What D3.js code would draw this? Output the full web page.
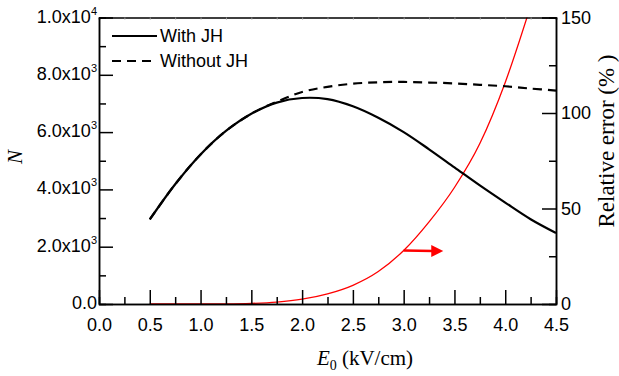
<!DOCTYPE html>
<html>
<head>
<meta charset="utf-8">
<script src="https://cdn.jsdelivr.net/npm/d3@7"></script>
<style>
  body { margin: 0; background: #fff; }
  svg { display: block; }
  .tick text { font-family: "Liberation Sans", Arial, sans-serif; font-size: 18px; fill: #000; }
</style>
</head>
<body>
<svg id="chart" width="619" height="376"></svg>
<script>
// E0 values (kV/cm)
var eField = [0.5, 0.75, 1.0, 1.25, 1.5, 1.75, 2.0, 2.25, 2.5, 2.75, 3.0, 3.25, 3.5, 3.75, 4.0, 4.25, 4.5];
// N with Joule heating
var withJH = [2950, 4180, 5220, 6040, 6640, 7030, 7190, 7150, 6900, 6500, 6000, 5400, 4770, 4140, 3540, 2960, 2480];
// N without Joule heating
var withoutJH = [2950, 4180, 5220, 6040, 6640, 7060, 7400, 7580, 7690, 7740, 7750, 7730, 7700, 7650, 7600, 7520, 7450];
// relative error (%), right axis
var errE = [0.5, 0.75, 1.0, 1.25, 1.5, 1.75, 2.0, 2.25, 2.5, 2.75, 3.0, 3.25, 3.5, 3.75, 4.0, 4.25];
var relErr = [0, 0, 0, 0.05, 0.3, 1, 2.5, 5.3, 9.8, 17, 28, 43, 61, 84, 116, 156];

var xTicks = [0, 0.5, 1.0, 1.5, 2.0, 2.5, 3.0, 3.5, 4.0, 4.5];
var yTicks = [0, 2000, 4000, 6000, 8000, 10000];
var yTickLabels = [["0.0", ""], ["2.0x10", "3"], ["4.0x10", "3"], ["6.0x10", "3"], ["8.0x10", "3"], ["1.0x10", "4"]];
var y2Ticks = [0, 50, 100, 150];
var legendNames = ["With JH", "Without JH"];

var svg = d3.select("#chart"),
    margin = { top: 17.5, right: 63, bottom: 72, left: 99 },
    width = +svg.attr("width") - margin.left - margin.right,
    height = +svg.attr("height") - margin.top - margin.bottom,
    g = svg.append("g").attr("transform", "translate(" + margin.left + "," + margin.top + ")");

var x = d3.scaleLinear().domain([0, 4.5]).range([0, width]);
var y = d3.scaleLinear().domain([0, 10000]).range([height, 0]);
var y2 = d3.scaleLinear().domain([0, 150]).range([height, 0]);

var minorX = d3.range(0.25, 4.5, 0.5);
var minorY = d3.range(1000, 10000, 2000);
var minorY2 = [25, 75, 125];

// clip for the curves
svg.append("defs").append("clipPath").attr("id", "clip")
    .append("rect").attr("width", width).attr("height", height);

// red relative error curve
var lineErr = d3.line()
    .x(function (d, i) { return x(errE[i]); })
    .y(function (d) { return y2(d); })
    .curve(d3.curveMonotoneX);

g.append("path")
    .attr("clip-path", "url(#clip)")
    .attr("fill", "none")
    .attr("stroke", "#ff0000")
    .attr("stroke-width", 1.3)
    .attr("d", lineErr(relErr));

// arrow pointing to right axis
var arrowStart = [3.0, 28], arrowEnd = [3.39, 28];
var ax0 = x(arrowStart[0]), ax1 = x(arrowEnd[0]), ay = y2(arrowStart[1]);
g.append("line")
    .attr("x1", ax0).attr("x2", ax1 - 10)
    .attr("y1", ay).attr("y2", ay + 0.5)
    .attr("stroke", "#ff0000").attr("stroke-width", 2.5);
g.append("path")
    .attr("fill", "#ff0000")
    .attr("d", "M" + ax1 + "," + (ay + 0.5) + "L" + (ax1 - 12) + "," + (ay - 5.5) + "L" + (ax1 - 12) + "," + (ay + 6.5) + "Z");

// N curves
var line = d3.line()
    .x(function (d, i) { return x(eField[i]); })
    .y(function (d) { return y(d); })
    .curve(d3.curveCatmullRom.alpha(0.5));

g.append("path")
    .attr("fill", "none")
    .attr("stroke", "#000")
    .attr("stroke-width", 2.2)
    .attr("stroke-dasharray", "9,6")
    .attr("d", line(withoutJH));

g.append("path")
    .attr("fill", "none")
    .attr("stroke", "#000")
    .attr("stroke-width", 2.2)
    .attr("d", line(withJH));

// top border with tiny ticks
g.append("g")
    .call(d3.axisTop(x).tickValues(d3.range(0.25, 4.5, 0.25)).tickSize(-2).tickFormat(""))
    .call(function (s) { s.select(".domain").attr("stroke", "#000").attr("stroke-width", 1.5); })
    .selectAll(".tick line").attr("stroke", "#999");

// bottom axis
var gx = g.append("g").attr("transform", "translate(0," + height + ")");
gx.call(d3.axisBottom(x).tickValues(xTicks).tickSizeInner(-14).tickSizeOuter(0).tickPadding(14)
    .tickFormat(d3.format(".1f")));
gx.append("g").call(d3.axisBottom(x).tickValues(minorX).tickSize(-7).tickFormat(""));
gx.selectAll(".domain").attr("stroke-width", 1.5);
gx.selectAll(".tick line").attr("stroke-width", 1.5);

// left axis
var gy = g.append("g");
gy.call(d3.axisLeft(y).tickValues(yTicks).tickSizeInner(-14).tickSizeOuter(0).tickFormat(""));
gy.append("g").call(d3.axisLeft(y).tickValues(minorY).tickSize(-7).tickFormat(""));
gy.selectAll(".domain").attr("stroke-width", 1.5);
gy.selectAll(".tick line").attr("stroke-width", 1.5);

var yl = gy.selectAll(".ylab").data(yTicks).enter().append("text")
    .attr("class", "ylab")
    .attr("x", -2)
    .attr("y", function (d) { return y(d) + 5; })
    .attr("text-anchor", "end")
    .attr("fill", "#000")
    .style("font-family", "'Liberation Sans', Arial, sans-serif")
    .style("font-size", "18px");
yl.append("tspan").text(function (d, i) { return yTickLabels[i][0]; });
yl.append("tspan")
    .attr("dy", -8)
    .style("font-size", "11px")
    .text(function (d, i) { return yTickLabels[i][1]; });

// right axis
var gy2 = g.append("g").attr("transform", "translate(" + width + ",0)");
gy2.call(d3.axisRight(y2).tickValues(y2Ticks).tickSizeInner(-14).tickSizeOuter(0).tickPadding(5));
gy2.append("g").call(d3.axisRight(y2).tickValues(minorY2).tickSize(-7).tickFormat(""));
gy2.selectAll(".domain").attr("stroke-width", 1.5);
gy2.selectAll(".tick line").attr("stroke-width", 1.5);

// axis titles
var xt = svg.append("text")
    .attr("x", 365).attr("y", 365)
    .attr("text-anchor", "middle")
    .style("font-family", "'Liberation Serif', 'Times New Roman', serif")
    .style("font-size", "21px");
xt.append("tspan").style("font-style", "italic").text("E");
xt.append("tspan").attr("dy", 5).style("font-size", "14px").text("0");
xt.append("tspan").attr("dy", -5).text(" (kV/cm)");

svg.append("text")
    .attr("transform", "translate(22,157) rotate(-90)")
    .attr("text-anchor", "middle")
    .style("font-family", "'Liberation Serif', 'Times New Roman', serif")
    .style("font-size", "21px")
    .style("font-style", "italic")
    .text("N");

svg.append("text")
    .attr("transform", "translate(614,141) rotate(-90)")
    .attr("text-anchor", "middle")
    .style("font-family", "'Liberation Serif', 'Times New Roman', serif")
    .style("font-size", "23px")
    .text("Relative error (% )");

// legend
var legend = g.selectAll(".legend").data(legendNames).enter().append("g")
    .attr("class", "legend")
    .attr("transform", function (d, i) { return "translate(13," + (18.5 + i * 25) + ")"; });
legend.append("line")
    .attr("x1", 0).attr("x2", 45)
    .attr("stroke", "#000").attr("stroke-width", 2.2)
    .attr("stroke-dasharray", function (d, i) { return i ? "9,6" : null; });
legend.append("text")
    .attr("x", 48).attr("y", 6)
    .style("font-family", "'Liberation Sans', Arial, sans-serif")
    .style("font-size", "18px")
    .text(function (d) { return d; });
</script>
</body>
</html>
